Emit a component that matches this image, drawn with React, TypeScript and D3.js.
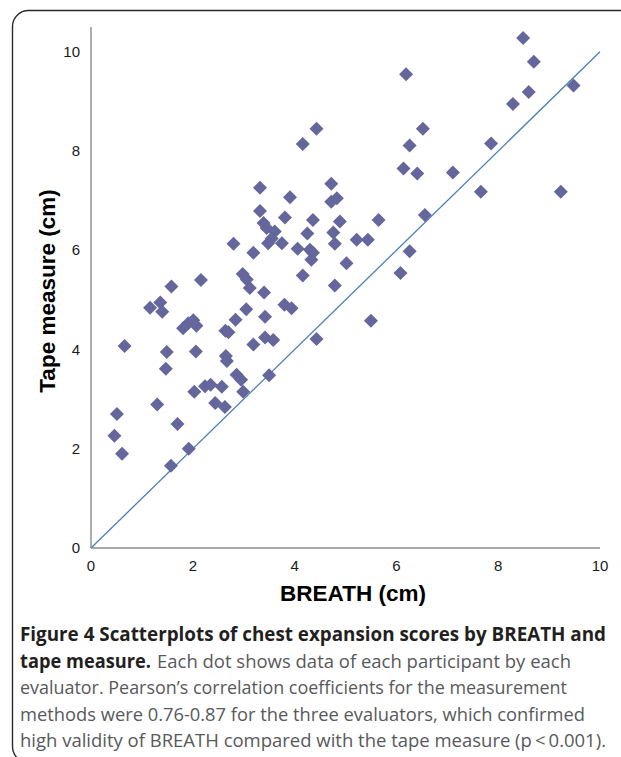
import React from "react";
import * as d3 from "d3";

const breath: number[] = [
  8.49, 8.70, 9.48, 8.60, 8.29, 6.19, 6.52, 6.26, 7.86, 6.14,
  6.41, 7.11, 7.66, 9.23, 6.56, 5.65, 5.22, 5.44, 5.02, 6.26,
  6.08, 5.50, 4.43, 4.16, 3.32, 3.91, 4.72, 4.72, 4.83, 3.32,
  3.39, 3.45, 3.61, 3.81, 4.36, 4.89, 4.25, 4.76, 3.48, 3.55,
  3.75, 4.06, 4.30, 4.36, 4.33, 4.79, 2.80, 3.19, 4.16, 2.98,
  3.06, 3.12, 2.16, 1.58, 4.79, 3.40, 1.16, 1.36, 1.40, 3.05,
  3.80, 3.94, 2.84, 3.42, 1.81, 1.91, 2.01, 2.07, 2.64, 2.70,
  3.19, 3.42, 3.58, 4.43, 0.66, 1.49, 2.06, 2.65, 2.67, 1.47,
  2.86, 2.95, 3.50, 2.03, 2.24, 2.35, 2.57, 2.99, 2.44, 2.63,
  1.30, 0.51, 1.70, 0.46, 0.61, 1.92, 1.57,
];
const tape: number[] = [
  10.28, 9.80, 9.32, 9.19, 8.95, 9.55, 8.45, 8.11, 8.15, 7.65,
  7.55, 7.57, 7.18, 7.18, 6.71, 6.61, 6.21, 6.21, 5.74, 5.98,
  5.54, 4.58, 8.45, 8.14, 7.26, 7.07, 7.34, 6.98, 7.05, 6.79,
  6.55, 6.45, 6.38, 6.66, 6.61, 6.58, 6.34, 6.36, 6.14, 6.24,
  6.14, 6.03, 6.01, 5.95, 5.81, 6.13, 6.13, 5.95, 5.49, 5.52,
  5.41, 5.24, 5.40, 5.27, 5.29, 5.15, 4.84, 4.95, 4.76, 4.81,
  4.90, 4.83, 4.60, 4.66, 4.43, 4.53, 4.59, 4.48, 4.38, 4.35,
  4.10, 4.24, 4.19, 4.21, 4.07, 3.95, 3.96, 3.87, 3.77, 3.61,
  3.49, 3.39, 3.48, 3.15, 3.26, 3.29, 3.25, 3.15, 2.92, 2.84,
  2.89, 2.70, 2.50, 2.26, 1.90, 2.00, 1.66,
];
const xTicks: number[] = [0, 2, 4, 6, 8, 10];
const yTicks: number[] = [0, 2, 4, 6, 8, 10];
const identityLine: [number, number][] = [[0, 0], [10, 10]];

const xTitle = "BREATH (cm)";
const yTitle = "Tape measure (cm)";
const captionBold1 = "Figure 4 Scatterplots of chest expansion scores by BREATH and";
const captionBold2 = "tape measure.";
const captionRest2 = "Each dot shows data of each participant by each";
const captionLine3 = "evaluator. Pearson\u2019s correlation coefficients for the measurement";
const captionLine4 = "methods were 0.76-0.87 for the three evaluators, which confirmed";
const captionLine5 = "high validity of BREATH compared with the tape measure (p\u2009<\u20090.001).";

export default function App() {
  const W = 621;
  const H = 757;
  const x = d3.scaleLinear().domain([0, 10]).range([91, 600]);
  const y = d3.scaleLinear().domain([0, 10.5]).range([548, 27]);
  const diamond = d3.symbol().type(d3.symbolSquare).size(98)() as string;
  const line = d3
    .line<[number, number]>()
    .x((d) => x(d[0]))
    .y((d) => y(d[1]));
  const sans = "'Liberation Sans', Arial, sans-serif";
  const capFont = "'Open Sans', 'Noto Sans', sans-serif";
  const points = breath.map((b, i) => [b, tape[i]] as [number, number]);
  const capSize = 19;

  return (
    <svg
      width={W}
      height={H}
      style={{ position: "absolute", left: 0, top: 0, background: "#fff" }}
    >
      <rect x={0} y={0} width={W} height={H} fill="#fff" />
      <rect
        x={12.5}
        y={10.5}
        width={700}
        height={752}
        rx={16}
        ry={16}
        fill="none"
        stroke="#2b2b2b"
        strokeWidth={1.4}
      />
      {/* axes */}
      <line x1={x(0)} x2={x(0)} y1={y(0)} y2={y(10.5)} stroke="#8c8c8c" strokeWidth={1.4} />
      <line x1={x(0)} x2={x(10)} y1={y(0)} y2={y(0)} stroke="#8c8c8c" strokeWidth={1.4} />
      {yTicks.map((t) => (
        <text
          key={"y" + t}
          x={80}
          y={y(t) + 5}
          textAnchor="end"
          fontFamily={sans}
          fontSize={15}
          fill="#1a1a1a"
        >
          {t}
        </text>
      ))}
      {xTicks.map((t) => (
        <text
          key={"x" + t}
          x={x(t)}
          y={571}
          textAnchor="middle"
          fontFamily={sans}
          fontSize={15}
          fill="#1a1a1a"
        >
          {t}
        </text>
      ))}
      <text
        x={353}
        y={601}
        textAnchor="middle"
        fontFamily={sans}
        fontWeight="bold"
        fontSize={22.5}
        fill="#000"
      >
        {xTitle}
      </text>
      <text
        transform={`translate(55,${291}) rotate(-90)`}
        textAnchor="middle"
        fontFamily={sans}
        fontWeight="bold"
        fontSize={22.5}
        fill="#000"
      >
        {yTitle}
      </text>
      {/* identity line */}
      <path d={line(identityLine) as string} fill="none" stroke="#4a7ebb" strokeWidth={1.3} />
      {/* points */}
      {points.map((p, i) => (
        <path
          key={i}
          d={diamond}
          transform={`translate(${x(p[0])},${y(p[1])}) rotate(45)`}
          fill="#65669b"
        />
      ))}
      {/* caption */}
      <text x={20} y={641} fontFamily={capFont} fontWeight="bold" fontSize={capSize} fill="#231f20" textLength={586} lengthAdjust="spacingAndGlyphs">
        {captionBold1}
      </text>
      <text x={20} y={668} fontFamily={capFont} fontWeight="bold" fontSize={capSize} fill="#231f20" textLength={131} lengthAdjust="spacingAndGlyphs">
        {captionBold2}
      </text>
      <text x={157} y={668} fontFamily={capFont} fontSize={capSize} fill="#58595b" textLength={414} lengthAdjust="spacingAndGlyphs">
        {captionRest2}
      </text>
      <text x={20} y={694} fontFamily={capFont} fontSize={capSize} fill="#58595b" textLength={547} lengthAdjust="spacingAndGlyphs">
        {captionLine3}
      </text>
      <text x={20} y={721} fontFamily={capFont} fontSize={capSize} fill="#58595b" textLength={565} lengthAdjust="spacingAndGlyphs">
        {captionLine4}
      </text>
      <text x={20} y={747} fontFamily={capFont} fontSize={capSize} fill="#58595b" textLength={586} lengthAdjust="spacingAndGlyphs">
        {captionLine5}
      </text>
    </svg>
  );
}
